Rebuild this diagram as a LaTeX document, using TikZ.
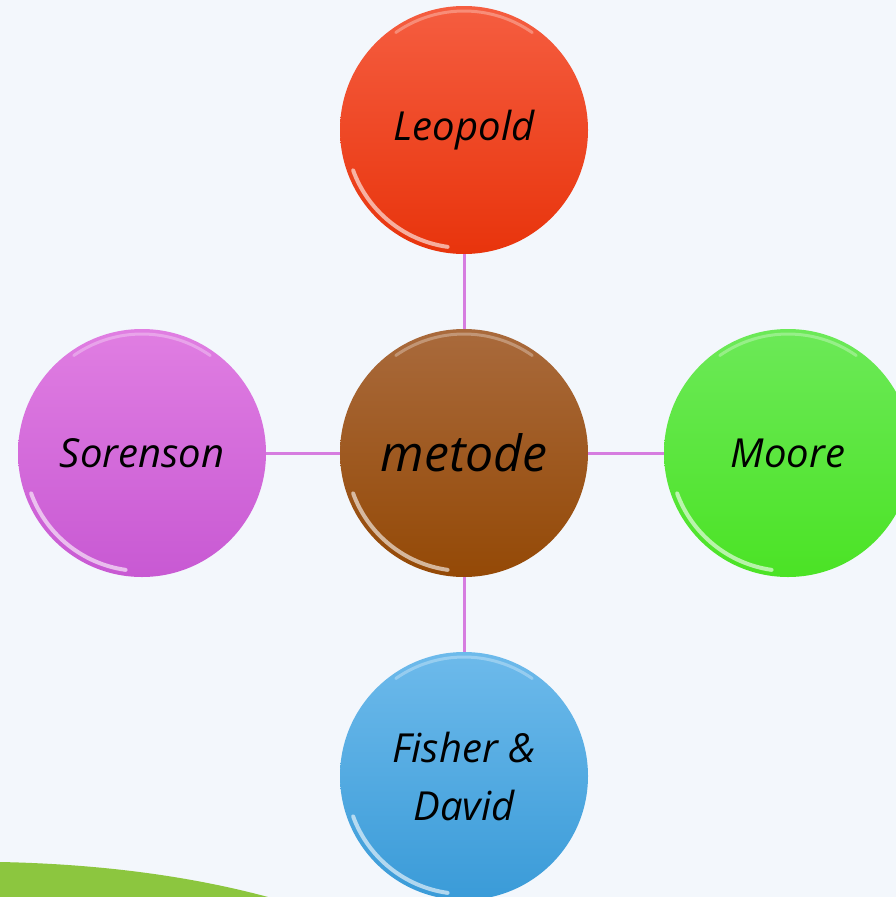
\documentclass[tikz,border=0pt]{standalone}
\usepackage{fontspec}
\setmainfont{Open Sans}
\usetikzlibrary{calc}
\definecolor{bg}{HTML}{F3F7FC}
\definecolor{conncol}{HTML}{D67DE0}
\definecolor{hill}{HTML}{8CC63F}
\definecolor{leoT}{HTML}{F55D40}\definecolor{leoB}{HTML}{E8340C}
\definecolor{metT}{HTML}{A96A3C}\definecolor{metB}{HTML}{944906}
\definecolor{mooT}{HTML}{6CE958}\definecolor{mooB}{HTML}{4BE325}
\definecolor{sorT}{HTML}{E07EE2}\definecolor{sorB}{HTML}{C859D3}
\definecolor{fisT}{HTML}{6DBAEB}\definecolor{fisB}{HTML}{3A9BD8}
\tikzset{
  bubble/.style={circle, minimum size=248pt, inner sep=0pt, draw=none, align=center,
    font=\itshape\fontsize{40}{58}\selectfont},
  conn/.style={draw=conncol, line width=3pt},
  shine/.style={white, line width=4pt, opacity=0.6, line cap=round},
}
\newcommand{\bubblehi}[1]{%
  \draw[shine] ($(#1)+(200:118pt)$) arc[start angle=200, end angle=262, radius=118pt];
  \draw[white, line width=3pt, opacity=0.3, line cap=round] ($(#1)+(55:119pt)$) arc[start angle=55, end angle=125, radius=119pt];
}
\begin{document}
\begin{tikzpicture}[x=1pt,y=-1pt]
\fill[bg] (0,0) rectangle (896,897);
\useasboundingbox (0,0) rectangle (896,897);
\fill[hill] (0,862) .. controls (100,864) and (190,876) .. (268,897) -- (0,897) -- cycle;

\node[bubble, top color=leoT, bottom color=leoB] (leo) at (464,130) {Leopold};
\node[bubble, top color=metT, bottom color=metB, font=\itshape\fontsize{50}{58}\selectfont] (met) at (464,453) {metode};
\node[bubble, top color=mooT, bottom color=mooB] (moo) at (788,453) {Moore};
\node[bubble, top color=sorT, bottom color=sorB] (sor) at (142,453) {Sorenson};
\node[bubble, top color=fisT, bottom color=fisB] (fis) at (464,776) {Fisher \&\\David};

\bubblehi{leo}\bubblehi{met}\bubblehi{moo}\bubblehi{sor}\bubblehi{fis}

\draw[conn] (leo) -- (met);
\draw[conn] (sor) -- (met);
\draw[conn] (met) -- (moo);
\draw[conn] (met) -- (fis);
\end{tikzpicture}
\end{document}
